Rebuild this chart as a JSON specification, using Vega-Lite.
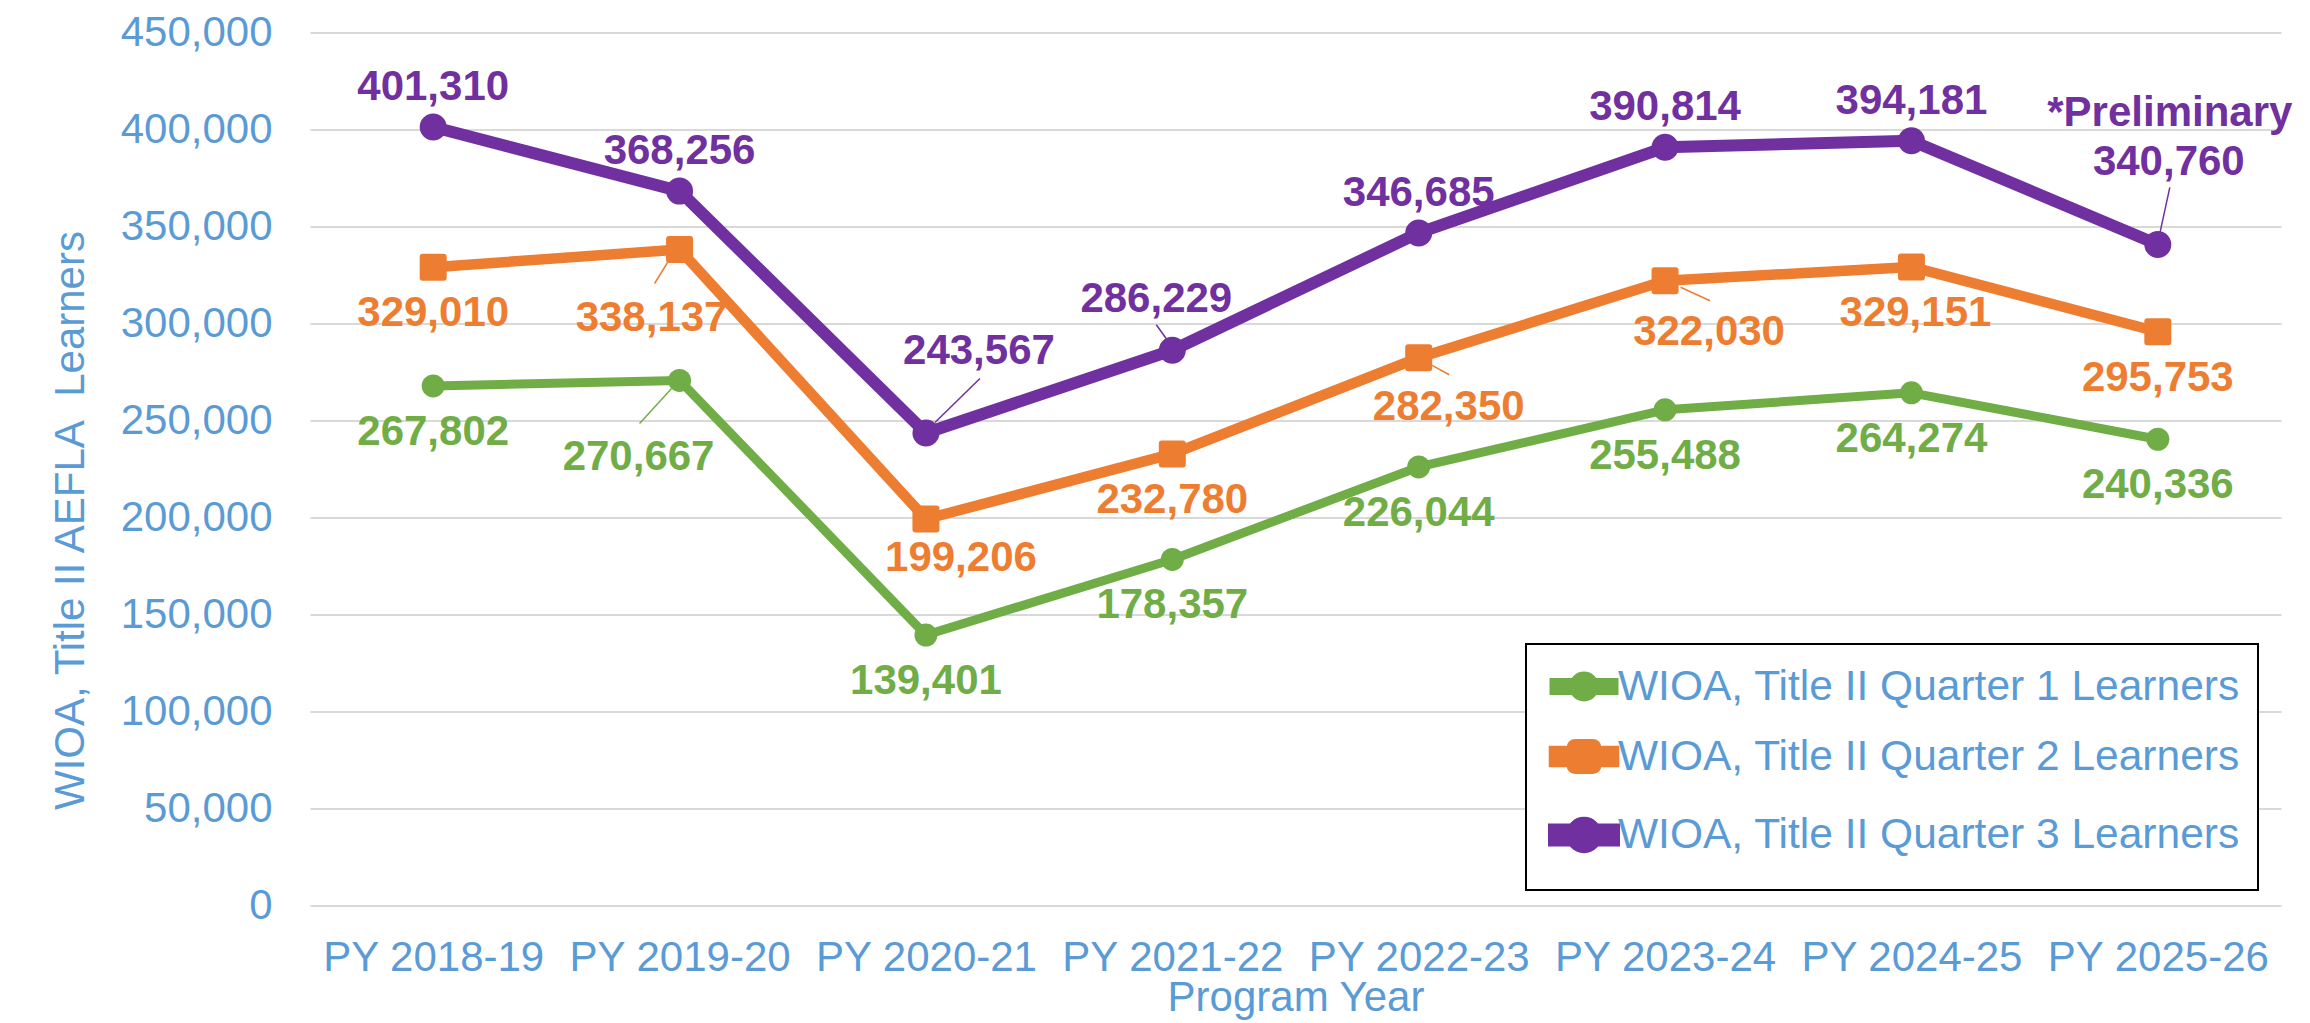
{
  "$schema": "https://vega.github.io/schema/vega-lite/v6.json",
  "width": 1971,
  "height": 873,
  "autosize": {"type": "none"},
  "padding": {"left": 310, "top": 32.5, "right": 29, "bottom": 117.5},
  "background": "white",
  "config": {"font": "Liberation Sans", "view": {"stroke": null}},
  "data": {"values": [
    {"year": "PY 2018-19", "series": "WIOA, Title II Quarter 1 Learners", "value": 267802},
    {"year": "PY 2019-20", "series": "WIOA, Title II Quarter 1 Learners", "value": 270667},
    {"year": "PY 2020-21", "series": "WIOA, Title II Quarter 1 Learners", "value": 139401},
    {"year": "PY 2021-22", "series": "WIOA, Title II Quarter 1 Learners", "value": 178357},
    {"year": "PY 2022-23", "series": "WIOA, Title II Quarter 1 Learners", "value": 226044},
    {"year": "PY 2023-24", "series": "WIOA, Title II Quarter 1 Learners", "value": 255488},
    {"year": "PY 2024-25", "series": "WIOA, Title II Quarter 1 Learners", "value": 264274},
    {"year": "PY 2025-26", "series": "WIOA, Title II Quarter 1 Learners", "value": 240336},
    {"year": "PY 2018-19", "series": "WIOA, Title II Quarter 2 Learners", "value": 329010},
    {"year": "PY 2019-20", "series": "WIOA, Title II Quarter 2 Learners", "value": 338137},
    {"year": "PY 2020-21", "series": "WIOA, Title II Quarter 2 Learners", "value": 199206},
    {"year": "PY 2021-22", "series": "WIOA, Title II Quarter 2 Learners", "value": 232780},
    {"year": "PY 2022-23", "series": "WIOA, Title II Quarter 2 Learners", "value": 282350},
    {"year": "PY 2023-24", "series": "WIOA, Title II Quarter 2 Learners", "value": 322030},
    {"year": "PY 2024-25", "series": "WIOA, Title II Quarter 2 Learners", "value": 329151},
    {"year": "PY 2025-26", "series": "WIOA, Title II Quarter 2 Learners", "value": 295753},
    {"year": "PY 2018-19", "series": "WIOA, Title II Quarter 3 Learners", "value": 401310},
    {"year": "PY 2019-20", "series": "WIOA, Title II Quarter 3 Learners", "value": 368256},
    {"year": "PY 2020-21", "series": "WIOA, Title II Quarter 3 Learners", "value": 243567},
    {"year": "PY 2021-22", "series": "WIOA, Title II Quarter 3 Learners", "value": 286229},
    {"year": "PY 2022-23", "series": "WIOA, Title II Quarter 3 Learners", "value": 346685},
    {"year": "PY 2023-24", "series": "WIOA, Title II Quarter 3 Learners", "value": 390814},
    {"year": "PY 2024-25", "series": "WIOA, Title II Quarter 3 Learners", "value": 394181},
    {"year": "PY 2025-26", "series": "WIOA, Title II Quarter 3 Learners", "value": 340760}
  ]},
  "encoding": {
    "x": {
      "field": "year", "type": "ordinal", "sort": null,
      "scale": {"type": "point", "padding": 0.5},
      "axis": {
        "title": "Program Year", "labelAngle": 0, "domain": false, "ticks": false, "tickSize": 0, "grid": false,
        "labelFontSize": 42, "labelColor": "#5B9BD5", "labelPadding": 31.5, "labelLimit": 0,
        "titleFontSize": 42, "titleFontWeight": "normal", "titleColor": "#5B9BD5",
        "titleBaseline": "alphabetic", "titleY": 105
      }
    },
    "y": {
      "field": "value", "type": "quantitative",
      "scale": {"domain": [0, 450000], "nice": false},
      "axis": {
        "title": "WIOA, Title II AEFLA\u00a0 Learners",
        "values": [0, 50000, 100000, 150000, 200000, 250000, 300000, 350000, 400000, 450000],
        "format": ",.0f", "domain": false, "ticks": false, "tickSize": 0,
        "labelFontSize": 42, "labelColor": "#5B9BD5", "labelPadding": 38,
        "gridColor": "#D9D9D9", "gridWidth": 2,
        "titleFontSize": 42, "titleFontWeight": "normal", "titleColor": "#5B9BD5",
        "titleAngle": 270, "titleX": -239.6, "titleY": 487.5, "titleAlign": "center", "titleBaseline": "middle"
      }
    },
    "color": {
      "field": "series", "type": "nominal",
      "scale": {
        "domain": ["WIOA, Title II Quarter 1 Learners", "WIOA, Title II Quarter 2 Learners", "WIOA, Title II Quarter 3 Learners"],
        "range": ["#70AD47", "#ED7D31", "#7030A0"]
      },
      "legend": {
        "title": null, "orient": "none", "legendX": 1216, "legendY": 611.5,
        "padding": 18, "rowPadding": 8, "symbolSize": 1600, "symbolOffset": 14, "labelOffset": 8,
        "labelFontSize": 42.5, "labelColor": "#5B9BD5", "labelLimit": 1000, "symbolStrokeWidth": 0,
        "strokeColor": "black", "fillColor": "white",
        "encode": {
          "legend": {"update": {"strokeWidth": {"value": 2}}},
          "symbols": {"update": {
            "shape": {"signal": "datum.value == 'WIOA, Title II Quarter 1 Learners' ? 'M-1.5,-0.2H1.5V0.2H-1.5Z M-0.52,0A0.52,0.52 0 1,1 0.52,0A0.52,0.52 0 1,1 -0.52,0Z' : datum.value == 'WIOA, Title II Quarter 2 Learners' ? 'M-1.5,-0.27H1.5V0.27H-1.5Z M-0.43,-0.61H0.43Q0.61,-0.61 0.61,-0.43V0.43Q0.61,0.61 0.43,0.61H-0.43Q-0.61,0.61 -0.61,0.43V-0.43Q-0.61,-0.61 -0.43,-0.61Z' : 'M-1.5,-0.27H1.5V0.27H-1.5Z M-0.61,0A0.61,0.61 0 1,1 0.61,0A0.61,0.61 0 1,1 -0.61,0Z'"},
            "fill": {"scale": "color", "field": "value"},
            "stroke": {"value": "transparent"},
            "strokeWidth": {"value": 0},
            "opacity": {"value": 1},
            "size": {"value": 1600}
          }}
        }
      }
    }
  },
  "layer": [
    {
      "mark": {"type": "line", "strokeJoin": "round", "strokeCap": "round"},
      "encoding": {
        "strokeWidth": {
          "field": "series", "type": "nominal",
          "scale": {"domain": ["WIOA, Title II Quarter 1 Learners", "WIOA, Title II Quarter 2 Learners", "WIOA, Title II Quarter 3 Learners"], "range": [9, 12, 12]},
          "legend": null
        }
      }
    },
    {
      "transform": [{"filter": "datum.series != 'WIOA, Title II Quarter 2 Learners'"}],
      "mark": {"type": "point", "shape": "circle", "filled": true, "opacity": 1},
      "encoding": {
        "size": {
          "field": "series", "type": "nominal",
          "scale": {"domain": ["WIOA, Title II Quarter 1 Learners", "WIOA, Title II Quarter 3 Learners"], "range": [529, 729]},
          "legend": null
        }
      }
    },
    {
      "transform": [{"filter": "datum.series == 'WIOA, Title II Quarter 2 Learners'"}],
      "mark": {"type": "point", "shape": "square", "filled": true, "opacity": 1, "size": 441, "stroke": "#ED7D31", "strokeWidth": 6, "strokeJoin": "round"}
    },
    {
      "transform": [{"filter": "datum.series == 'WIOA, Title II Quarter 3 Learners' && datum.year != 'PY 2020-21' && datum.year != 'PY 2021-22' && datum.year != 'PY 2025-26'"}],
      "mark": {"type": "text", "fontSize": 42, "fontWeight": "bold", "baseline": "middle", "align": "center", "dy": -40},
      "encoding": {"text": {"field": "value", "type": "quantitative", "format": ","}}
    },
    {
      "transform": [{"filter": "(datum.series == 'WIOA, Title II Quarter 1 Learners' && datum.year != 'PY 2019-20') || (datum.series == 'WIOA, Title II Quarter 2 Learners' && datum.year != 'PY 2019-20' && datum.year != 'PY 2020-21' && datum.year != 'PY 2022-23' && datum.year != 'PY 2023-24' && datum.year != 'PY 2024-25')"}],
      "mark": {"type": "text", "fontSize": 42, "fontWeight": "bold", "baseline": "middle", "align": "center", "dy": 46},
      "encoding": {"text": {"field": "value", "type": "quantitative", "format": ","}}
    },
    {
      "transform": [{"filter": "datum.series == 'WIOA, Title II Quarter 3 Learners' && datum.year == 'PY 2020-21'"}],
      "mark": {"type": "text", "fontSize": 42, "fontWeight": "bold", "baseline": "middle", "align": "center", "dx": 53, "dy": -82},
      "encoding": {"text": {"field": "value", "type": "quantitative", "format": ","}}
    },
    {
      "transform": [{"filter": "datum.series == 'WIOA, Title II Quarter 3 Learners' && datum.year == 'PY 2021-22'"}],
      "mark": {"type": "text", "fontSize": 42, "fontWeight": "bold", "baseline": "middle", "align": "center", "dx": -16, "dy": -51},
      "encoding": {"text": {"field": "value", "type": "quantitative", "format": ","}}
    },
    {
      "transform": [{"filter": "datum.series == 'WIOA, Title II Quarter 3 Learners' && datum.year == 'PY 2025-26'"}],
      "mark": {"type": "text", "fontSize": 42, "fontWeight": "bold", "baseline": "middle", "align": "center", "dx": 11, "dy": -82},
      "encoding": {"text": {"field": "value", "type": "quantitative", "format": ","}}
    },
    {
      "transform": [{"filter": "datum.series == 'WIOA, Title II Quarter 3 Learners' && datum.year == 'PY 2025-26'"}],
      "mark": {"type": "text", "fontSize": 42, "fontWeight": "bold", "baseline": "middle", "align": "center", "dx": 12, "dy": -131, "text": "*Preliminary"}
    },
    {
      "transform": [{"filter": "datum.series == 'WIOA, Title II Quarter 2 Learners' && datum.year == 'PY 2019-20'"}],
      "mark": {"type": "text", "fontSize": 42, "fontWeight": "bold", "baseline": "middle", "align": "center", "dx": -28, "dy": 68},
      "encoding": {"text": {"field": "value", "type": "quantitative", "format": ","}}
    },
    {
      "transform": [{"filter": "datum.series == 'WIOA, Title II Quarter 2 Learners' && datum.year == 'PY 2020-21'"}],
      "mark": {"type": "text", "fontSize": 42, "fontWeight": "bold", "baseline": "middle", "align": "center", "dx": 35, "dy": 39},
      "encoding": {"text": {"field": "value", "type": "quantitative", "format": ","}}
    },
    {
      "transform": [{"filter": "datum.series == 'WIOA, Title II Quarter 2 Learners' && datum.year == 'PY 2022-23'"}],
      "mark": {"type": "text", "fontSize": 42, "fontWeight": "bold", "baseline": "middle", "align": "center", "dx": 30, "dy": 49},
      "encoding": {"text": {"field": "value", "type": "quantitative", "format": ","}}
    },
    {
      "transform": [{"filter": "datum.series == 'WIOA, Title II Quarter 2 Learners' && datum.year == 'PY 2023-24'"}],
      "mark": {"type": "text", "fontSize": 42, "fontWeight": "bold", "baseline": "middle", "align": "center", "dx": 44, "dy": 51},
      "encoding": {"text": {"field": "value", "type": "quantitative", "format": ","}}
    },
    {
      "transform": [{"filter": "datum.series == 'WIOA, Title II Quarter 2 Learners' && datum.year == 'PY 2024-25'"}],
      "mark": {"type": "text", "fontSize": 42, "fontWeight": "bold", "baseline": "middle", "align": "center", "dx": 4, "dy": 46},
      "encoding": {"text": {"field": "value", "type": "quantitative", "format": ","}}
    },
    {
      "transform": [{"filter": "datum.series == 'WIOA, Title II Quarter 1 Learners' && datum.year == 'PY 2019-20'"}],
      "mark": {"type": "text", "fontSize": 42, "fontWeight": "bold", "baseline": "middle", "align": "center", "dx": -41, "dy": 77},
      "encoding": {"text": {"field": "value", "type": "quantitative", "format": ","}}
    },
    {
      "transform": [{"filter": "datum.series == 'WIOA, Title II Quarter 3 Learners' && datum.year == 'PY 2020-21'"}],
      "mark": {"type": "rule", "strokeWidth": 1.5, "xOffset": 9, "yOffset": -10.5, "x2Offset": 54, "y2Offset": -54.5},
      "encoding": {"x2": {"field": "year"}, "y2": {"field": "value"}}
    },
    {
      "transform": [{"filter": "datum.series == 'WIOA, Title II Quarter 3 Learners' && datum.year == 'PY 2021-22'"}],
      "mark": {"type": "rule", "strokeWidth": 1.5, "xOffset": -6, "yOffset": -11.5, "x2Offset": -16, "y2Offset": -25.5},
      "encoding": {"x2": {"field": "year"}, "y2": {"field": "value"}}
    },
    {
      "transform": [{"filter": "datum.series == 'WIOA, Title II Quarter 3 Learners' && datum.year == 'PY 2025-26'"}],
      "mark": {"type": "rule", "strokeWidth": 1.5, "xOffset": 2, "yOffset": -11, "x2Offset": 12, "y2Offset": -57},
      "encoding": {"x2": {"field": "year"}, "y2": {"field": "value"}}
    },
    {
      "transform": [{"filter": "datum.series == 'WIOA, Title II Quarter 2 Learners' && datum.year == 'PY 2019-20'"}],
      "mark": {"type": "rule", "strokeWidth": 1.5, "xOffset": -12, "yOffset": 13, "x2Offset": -25, "y2Offset": 34},
      "encoding": {"x2": {"field": "year"}, "y2": {"field": "value"}}
    },
    {
      "transform": [{"filter": "datum.series == 'WIOA, Title II Quarter 2 Learners' && datum.year == 'PY 2022-23'"}],
      "mark": {"type": "rule", "strokeWidth": 1.5, "xOffset": 13.5, "yOffset": 7.7, "x2Offset": 30.5, "y2Offset": 17},
      "encoding": {"x2": {"field": "year"}, "y2": {"field": "value"}}
    },
    {
      "transform": [{"filter": "datum.series == 'WIOA, Title II Quarter 2 Learners' && datum.year == 'PY 2023-24'"}],
      "mark": {"type": "rule", "strokeWidth": 1.5, "xOffset": 15.5, "yOffset": 6.5, "x2Offset": 45, "y2Offset": 20},
      "encoding": {"x2": {"field": "year"}, "y2": {"field": "value"}}
    },
    {
      "transform": [{"filter": "datum.series == 'WIOA, Title II Quarter 1 Learners' && datum.year == 'PY 2019-20'"}],
      "mark": {"type": "rule", "strokeWidth": 1.5, "xOffset": -8, "yOffset": 8, "x2Offset": -40, "y2Offset": 43},
      "encoding": {"x2": {"field": "year"}, "y2": {"field": "value"}}
    }
  ]
}
